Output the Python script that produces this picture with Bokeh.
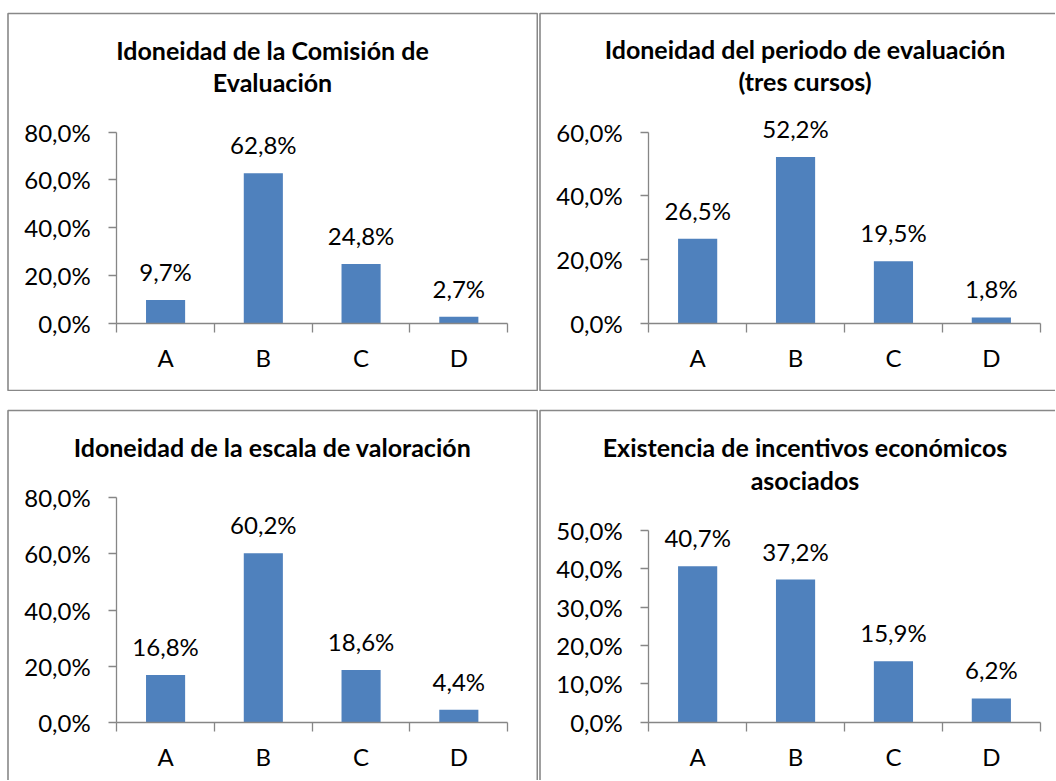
from bokeh.plotting import figure
from bokeh.models import (Range1d, LinearAxis, FixedTicker, Label, BoxAnnotation)
from bokeh.layouts import column, row
from bokeh.core.properties import value
from bokeh.embed import file_html
from bokeh.resources import INLINE

# ---------------- data ----------------
categories = ["A", "B", "C", "D"]

title_comision = ["Idoneidad de la Comisión de", "Evaluación"]
title_periodo = ["Idoneidad del periodo de evaluación", "(tres cursos)"]
title_escala = ["Idoneidad de la escala de valoración"]
title_incentivos = ["Existencia de incentivos económicos", "asociados"]

values_comision = [9.7, 62.8, 24.8, 2.7]
values_periodo = [26.5, 52.2, 19.5, 1.8]
values_escala = [16.8, 60.2, 18.6, 4.4]
values_incentivos = [40.7, 37.2, 15.9, 6.2]

ticks_comision = [0, 20, 40, 60, 80]
ticks_periodo = [0, 20, 40, 60]
ticks_escala = [0, 20, 40, 60, 80]
ticks_incentivos = [0, 10, 20, 30, 40, 50]

labels_comision = ["0,0%", "20,0%", "40,0%", "60,0%", "80,0%"]
labels_periodo = ["0,0%", "20,0%", "40,0%", "60,0%"]
labels_escala = ["0,0%", "20,0%", "40,0%", "60,0%", "80,0%"]
labels_incentivos = ["0,0%", "10,0%", "20,0%", "30,0%", "40,0%", "50,0%"]

# ---------------- style ----------------
BAR = "#4F81BD"
AXIS = "#868686"
BORDER = "#888888"
FONT = "Lato"
FS = "24px"
TFS = "25px"
BASE_FIX = 9  # alphabetic baseline correction (px)


def panel(width, height, geo, title_lines, vals, ticks, tick_labels,
          border_sides):
    ax_px, cat_px, y0_px, top_px, ymax, tcx, tbases = geo
    n = len(categories)
    c = cat_px                      # px per category
    k = (y0_px - top_px) / ymax     # px per percent unit

    def xd(px):
        return (px - ax_px) / c

    def yd(py):
        return (y0_px - py) / k

    p = figure(width=width, height=height, output_backend="svg",
               toolbar_location=None, tools="",
               x_axis_type=None, y_axis_type=None,
               x_range=Range1d(xd(0), xd(width)),
               y_range=Range1d(yd(height), yd(0)),
               min_border=0, outline_line_color=None,
               background_fill_color="white", border_fill_color="white")

    centers = [i + 0.5 for i in range(n)]
    p.vbar(x=centers, top=vals, bottom=0, width=0.4,
           fill_color=BAR, line_color=None)

    texts = [("%.1f%%" % v).replace(".", ",") for v in vals]
    p.text(x=centers, y=vals, text=texts, text_align="center",
           text_baseline="alphabetic", y_offset=-19.5 - BASE_FIX,
           text_font=value(FONT), text_font_size=FS, text_color="black")

    # y axis
    yax = LinearAxis(fixed_location=0, bounds=(0, ymax),
                     ticker=FixedTicker(ticks=ticks, minor_ticks=[]),
                     major_label_overrides={t: l for t, l in zip(ticks, tick_labels)},
                     major_tick_out=8, major_tick_in=0,
                     minor_tick_out=0, minor_tick_in=0,
                     axis_line_color=AXIS, major_tick_line_color=AXIS,
                     axis_line_width=1.3, major_tick_line_width=1.3,
                     major_label_standoff=18,
                     major_label_text_font=FONT,
                     major_label_text_font_size=FS,
                     major_label_text_color="black")
    p.add_layout(yax, "left")

    # x axis line + boundary ticks
    bounds = list(range(n + 1))
    xax = LinearAxis(fixed_location=0, bounds=(0, n),
                     ticker=FixedTicker(ticks=bounds, minor_ticks=[]),
                     major_label_overrides={b: "" for b in bounds},
                     major_tick_out=9, major_tick_in=0,
                     minor_tick_out=0, minor_tick_in=0,
                     axis_line_color=AXIS, major_tick_line_color=AXIS,
                     axis_line_width=1.3, major_tick_line_width=1.3,
                     major_label_text_font_size="1px")
    p.add_layout(xax, "below")

    # category labels
    xlab = LinearAxis(fixed_location=0, bounds=(0, n),
                      ticker=FixedTicker(ticks=centers, minor_ticks=[]),
                      major_label_overrides={cc: cat for cc, cat in zip(centers, categories)},
                      major_tick_out=0, major_tick_in=0,
                      minor_tick_out=0, minor_tick_in=0,
                      axis_line_color=None, major_tick_line_color=None,
                      major_label_standoff=20,
                      major_label_text_font=FONT,
                      major_label_text_font_size=FS,
                      major_label_text_color="black")
    p.add_layout(xlab, "below")

    # title lines
    for line, base in zip(title_lines, tbases):
        p.add_layout(Label(x=xd(tcx), y=yd(base - BASE_FIX), text=line,
                           text_align="center", text_baseline="alphabetic",
                           text_font=FONT, text_font_style="bold",
                           text_font_size=TFS, text_color="black"))

    # panel border
    l, t, r, b = border_sides
    p.add_layout(BoxAnnotation(left=xd(l), right=xd(r), top=yd(t), bottom=yd(b),
                               fill_alpha=0, fill_color=None,
                               line_color=BORDER, line_alpha=1.0,
                               line_width=1.6))
    return p


# geometry: (yaxis px, category px, zero px, top-tick px, top value,
#            title centre px, title baselines px) in figure pixels
tl = panel(538, 391, (116.2, 97.75, 322.7, 131.7, 80, 272, [58.3, 90.0]),
           title_comision, values_comision, ticks_comision, labels_comision,
           (7.5, 13, 536.8, 390))
tr = panel(517, 391, (110.2, 97.9, 322.7, 131.7, 60, 266.5, [57.5, 89.5]),
           title_periodo, values_periodo, ticks_periodo, labels_periodo,
           (1.5, 13, 540, 390))
bl = panel(538, 389, (116.2, 97.75, 330.7, 106.3, 80, 272, [64.7]),
           title_escala, values_escala, ticks_escala, labels_escala,
           (7.5, 19, 536.8, 410))
br = panel(517, 389, (110.2, 97.9, 330.7, 139.0, 50, 266.5, [64.0, 97.3]),
           title_incentivos, values_incentivos, ticks_incentivos, labels_incentivos,
           (1.5, 19, 540, 410))

layout = column(row(tl, tr, spacing=0), row(bl, br, spacing=0), spacing=0)

open("out.html", "w").write(file_html(layout, INLINE))
